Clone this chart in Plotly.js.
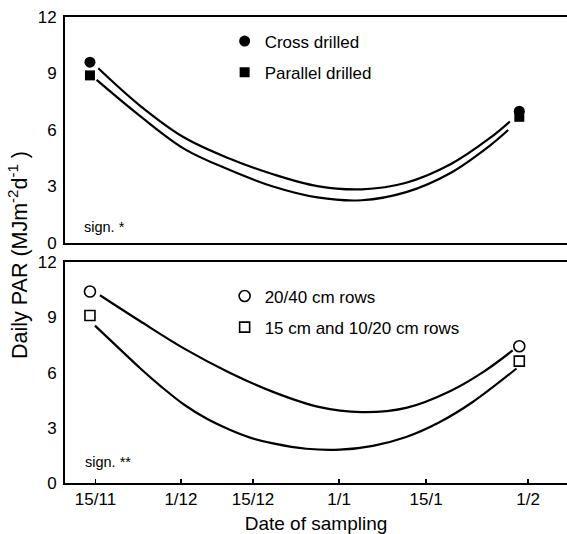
<!DOCTYPE html>
<html>
<head>
<meta charset="utf-8">
<script src="https://cdn.plot.ly/plotly-3.0.1.min.js"></script>
<style>html,body{margin:0;padding:0;background:#fff;}#chart{width:567px;height:534px;}</style>
</head>
<body>
<div id="chart"></div>
<script>
// x positions: days after 15/11 as drawn on the original (uneven) axis
const tickLabels = ['15/11', '1/12', '15/12', '1/1', '15/1', '1/2'];
const tickPos = [0, 15.4, 28.4, 43.9, 59.6, 78];

// measured points (first and last sampling)
const pointX = [-1.0, 76.4];
const crossDrilled = [9.6, 7.0];
const parallelDrilled = [8.9, 6.7];
const rows2040 = [10.4, 7.43];
const rows15and1020 = [9.1, 6.62];

// fitted curves
const crossCurveX = [0.5, 8, 16, 24, 32, 40, 48, 56, 64, 71, 74.7];
const crossCurveY = [9.28, 7.3, 5.6, 4.5, 3.65, 3.02, 2.85, 3.2, 4.18, 5.55, 6.45];
const parallelCurveX = [0.2, 8, 16, 24, 32, 40, 48, 56, 64, 71, 74.4];
const parallelCurveY = [8.66, 6.75, 5.0, 3.9, 3.0, 2.42, 2.27, 2.7, 3.72, 5.15, 6.0];
const rows2040CurveX = [0.8, 8, 16, 24, 32, 40, 48, 56, 64, 70, 75.2];
const rows2040CurveY = [10.2, 8.8, 7.3, 6.02, 4.95, 4.15, 3.85, 4.08, 5.0, 6.05, 7.2];
const rows15CurveX = [-0.1, 4, 8, 12, 16, 20, 24, 28, 32, 38, 44, 50, 56, 62, 68, 75.9];
const rows15CurveY = [8.55, 7.38, 6.25, 5.2, 4.25, 3.5, 2.92, 2.45, 2.15, 1.86, 1.81, 2.02, 2.5, 3.3, 4.4, 6.22];

const yTicks = [0, 3, 6, 9, 12];

const FONT = 'Liberation Sans, Arial, Helvetica, sans-serif';
const curveLine = {color: '#000', width: 2.2, shape: 'spline', smoothing: 1};

const traces = [
  {x: crossCurveX, y: crossCurveY, xaxis: 'x2', yaxis: 'y2', mode: 'lines', line: curveLine, showlegend: false, hoverinfo: 'skip'},
  {x: parallelCurveX, y: parallelCurveY, xaxis: 'x2', yaxis: 'y2', mode: 'lines', line: curveLine, showlegend: false, hoverinfo: 'skip'},
  {x: pointX, y: parallelDrilled, xaxis: 'x2', yaxis: 'y2', mode: 'markers', name: 'Parallel drilled',
   marker: {symbol: 'square', size: 10, color: '#000'}, legend: 'legend', legendgroup: 'b', legendrank: 2},
  {x: pointX, y: crossDrilled, xaxis: 'x2', yaxis: 'y2', mode: 'markers', name: 'Cross drilled',
   marker: {symbol: 'circle', size: 11, color: '#000'}, legend: 'legend', legendgroup: 'a', legendrank: 1},

  {x: rows2040CurveX, y: rows2040CurveY, xaxis: 'x', yaxis: 'y', mode: 'lines', line: curveLine, showlegend: false, hoverinfo: 'skip'},
  {x: rows15CurveX, y: rows15CurveY, xaxis: 'x', yaxis: 'y', mode: 'lines', line: curveLine, showlegend: false, hoverinfo: 'skip'},
  {x: pointX, y: rows2040, xaxis: 'x', yaxis: 'y', mode: 'markers', name: '20/40 cm rows',
   marker: {symbol: 'circle-open', size: 11, color: '#000', line: {width: 1.6, color: '#000'}}, legend: 'legend2', legendgroup: 'c', legendrank: 1},
  {x: pointX, y: rows15and1020, xaxis: 'x', yaxis: 'y', mode: 'markers', name: '15 cm and 10/20 cm rows',
   marker: {symbol: 'square-open', size: 10, color: '#000', line: {width: 1.6, color: '#000'}}, legend: 'legend2', legendgroup: 'd', legendrank: 2}
];

const xRange = [-5.5, 85.0];
const yCommon = {
  range: [0, 12], tickvals: yTicks, ticks: '', showgrid: false, zeroline: false,
  showline: true, linecolor: '#000', linewidth: 2, mirror: false,
  tickfont: {family: FONT, size: 17, color: '#000'}, ticklabelstandoff: 3
};
const legendCommon = {
  font: {family: FONT, size: 17, color: '#000'}, bgcolor: 'rgba(0,0,0,0)',
  borderwidth: 0, tracegroupgap: 6, itemwidth: 30, xanchor: 'left', yanchor: 'top',
  traceorder: 'grouped'
};

const layout = {
  width: 567, height: 534,
  margin: {l: 65, r: 0, t: 17, b: 51},
  paper_bgcolor: '#fff', plot_bgcolor: '#fff',
  font: {family: FONT, color: '#000'},
  xaxis: {
    domain: [0, 1], anchor: 'y', range: xRange, tickvals: tickPos, ticktext: tickLabels,
    ticks: 'inside', ticklen: 4, tickwidth: 1.5, tickcolor: '#000',
    showgrid: false, zeroline: false, showline: true, linecolor: '#000', linewidth: 2, mirror: true,
    tickfont: {family: FONT, size: 17, color: '#000'},
    title: {text: 'Date of sampling', font: {family: FONT, size: 19, color: '#000'}, standoff: 9}
  },
  xaxis2: {
    domain: [0, 1], anchor: 'y2', range: xRange, matches: 'x', showticklabels: false, ticks: '',
    showgrid: false, zeroline: false, showline: true, linecolor: '#000', linewidth: 2, mirror: true
  },
  yaxis: Object.assign({domain: [0, 0.474], anchor: 'x'}, yCommon),
  yaxis2: Object.assign({domain: [0.515, 1], anchor: 'x2'}, yCommon),
  legend: Object.assign({x: 0.318, y: 0.986}, legendCommon),
  legend2: Object.assign({x: 0.318, y: 0.439}, legendCommon),
  annotations: [
    {text: 'Daily PAR (MJm<sup>-2</sup>d<sup>-1</sup> )', xref: 'paper', yref: 'paper', x: -0.095, y: 0.49,
     xanchor: 'center', yanchor: 'middle', textangle: -90, showarrow: false,
     font: {family: FONT, size: 21.5, color: '#000'}},
    {text: 'sign. *', xref: 'x2 domain', yref: 'y2 domain', x: 0.033, y: 0.07, xanchor: 'left', yanchor: 'middle',
     showarrow: false, font: {family: FONT, size: 14.5, color: '#000'}},
    {text: 'sign. **', xref: 'x domain', yref: 'y domain', x: 0.035, y: 0.095, xanchor: 'left', yanchor: 'middle',
     showarrow: false, font: {family: FONT, size: 14.5, color: '#000'}}
  ]
};

Plotly.newPlot('chart', traces, layout, {staticPlot: true, displayModeBar: false});
</script>
</body>
</html>
